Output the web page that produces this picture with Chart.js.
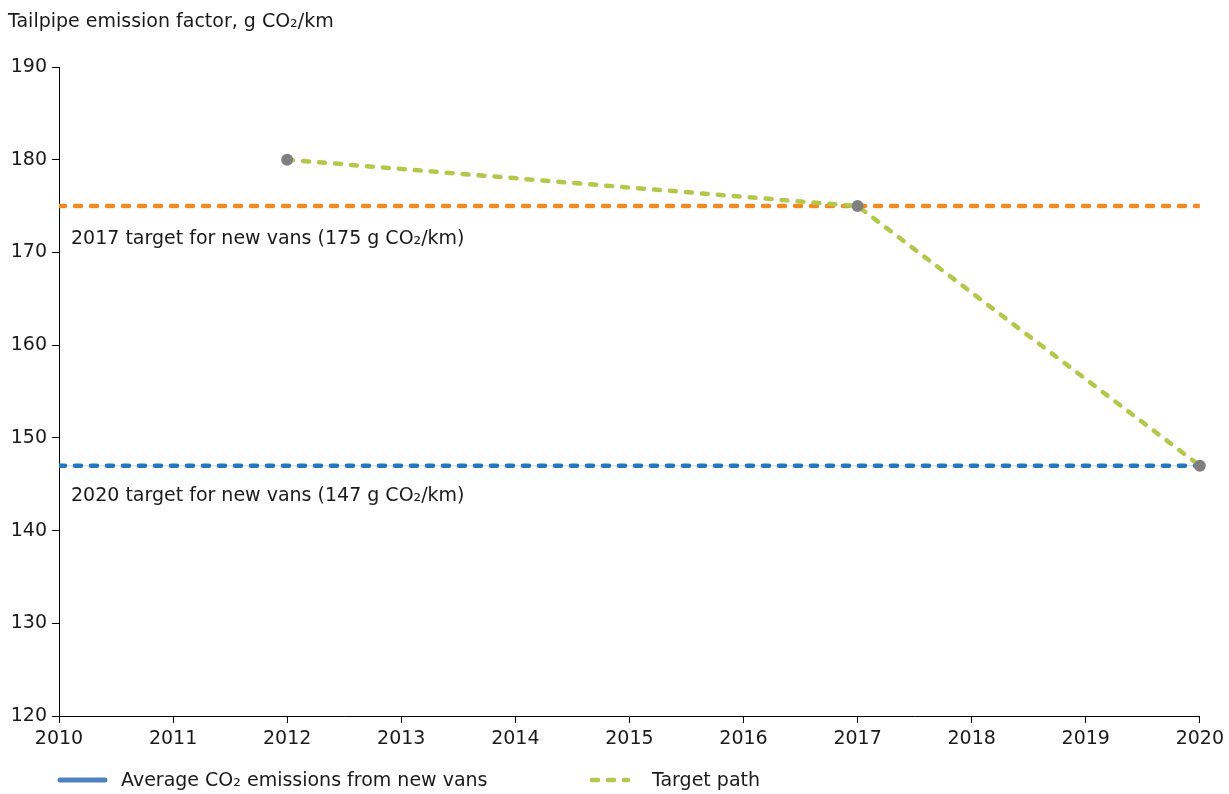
<!DOCTYPE html>
<html>
<head>
<meta charset="utf-8">
<script src="https://cdn.jsdelivr.net/npm/chart.js@4.4.1/dist/chart.umd.min.js"></script>
<style>
html,body{margin:0;padding:0;background:#fff;}
#wrap{width:1229px;height:794px;position:relative;}
</style>
</head>
<body>
<div id="wrap"><canvas id="c" width="1229" height="794"></canvas></div>
<script>
const yAxisTitle = 'Tailpipe emission factor, g CO₂/km';
const xMin = 2010, xMax = 2020;
const yMin = 120, yMax = 190, yStep = 10;

const targetPathYears = [2012, 2017, 2020];
const targetPathValues = [180, 175, 147];

const target2017Years = [2010, 2020];
const target2017Values = [175, 175];
const target2017Label = '2017 target for new vans (175 g CO₂/km)';

const target2020Years = [2010, 2020];
const target2020Values = [147, 147];
const target2020Label = '2020 target for new vans (147 g CO₂/km)';

const avgYears = [];
const avgValues = [];

const legendLabels = ['Average CO₂ emissions from new vans', 'Target path'];

const FONT = 'DejaVu Sans, Verdana, sans-serif';
const FS = 19;
const C_ORANGE = '#f28a24', C_BLUE = '#1f78c1', C_GREEN = '#b3c84a', C_GRAY = '#808080', C_AVG = '#4f81bd';
const DASH = [6, 10];

const pts = (xs, ys) => xs.map((x, i) => ({x, y: ys[i]}));

const overlay = {
  id: 'overlay',
  afterDraw(chart) {
    const ctx = chart.ctx, xs = chart.scales.x, ys = chart.scales.y;
    ctx.save();
    ctx.fillStyle = '#1a1a1a';
    ctx.font = FS + 'px ' + FONT;
    ctx.textBaseline = 'middle';
    ctx.textAlign = 'left';
    ctx.fillText(yAxisTitle, 8, 22);
    ctx.fillText(target2017Label, xs.left + 12, ys.getPixelForValue(target2017Values[0]) + 33);
    ctx.fillText(target2020Label, xs.left + 12, ys.getPixelForValue(target2020Values[0]) + 30);
    // legend
    const ly = 780;
    ctx.lineCap = 'round';
    ctx.strokeStyle = C_AVG; ctx.lineWidth = 5; ctx.setLineDash([]);
    ctx.beginPath(); ctx.moveTo(60, ly); ctx.lineTo(105, ly); ctx.stroke();
    ctx.fillText(legendLabels[0], 121, ly + 1);
    ctx.strokeStyle = C_GREEN; ctx.lineWidth = 4.5; ctx.setLineDash(DASH);
    ctx.beginPath(); ctx.moveTo(592, ly); ctx.lineTo(628, ly); ctx.stroke();
    ctx.setLineDash([]);
    ctx.fillText(legendLabels[1], 652, ly + 1);
    ctx.restore();
  }
};

new Chart(document.getElementById('c'), {
  type: 'scatter',
  data: {
    datasets: [
      {label: legendLabels[1], data: pts(targetPathYears, targetPathValues), showLine: true,
       borderColor: C_GREEN, borderWidth: 4.5, borderDash: DASH, borderCapStyle: 'round',
       pointRadius: 6, pointBackgroundColor: C_GRAY, pointBorderWidth: 0, order: 0, clip: false},
      {label: target2017Label, data: pts(target2017Years, target2017Values), showLine: true,
       borderColor: C_ORANGE, borderWidth: 4.5, borderDash: DASH, borderCapStyle: 'round',
       pointRadius: 0, order: 2},
      {label: target2020Label + ' base', data: pts(target2020Years, target2020Values), showLine: true,
       borderColor: '#c9def0', borderWidth: 1, pointRadius: 0, order: 3},
      {label: target2020Label, data: pts(target2020Years, target2020Values), showLine: true,
       borderColor: C_BLUE, borderWidth: 4.5, borderDash: DASH, borderCapStyle: 'round',
       pointRadius: 0, order: 2},
      {label: legendLabels[0], data: pts(avgYears, avgValues), showLine: true,
       borderColor: C_AVG, borderWidth: 5, pointRadius: 0}
    ]
  },
  options: {
    responsive: false, animation: false,
    layout: {padding: {top: 67, right: 29, left: 0, bottom: 0}},
    plugins: {legend: {display: false}, title: {display: false}, tooltip: {enabled: false}},
    scales: {
      x: {type: 'linear', min: xMin, max: xMax,
          afterFit(s) { s.height = 78; },
          border: {color: '#000', width: 1},
          grid: {drawOnChartArea: false, color: '#000', tickLength: 7},
          ticks: {stepSize: 1, color: '#1a1a1a', font: {family: FONT, size: FS}, padding: 5,
                  callback: v => String(v), maxRotation: 0, autoSkip: false}},
      y: {min: yMin, max: yMax,
          afterFit(s) { s.width = 59; },
          border: {color: '#000', width: 1},
          grid: {drawOnChartArea: false, color: '#000', tickLength: 7},
          ticks: {stepSize: yStep, color: '#1a1a1a', font: {family: FONT, size: FS}, padding: 5}}
    }
  },
  plugins: [overlay]
});
</script>
</body>
</html>
